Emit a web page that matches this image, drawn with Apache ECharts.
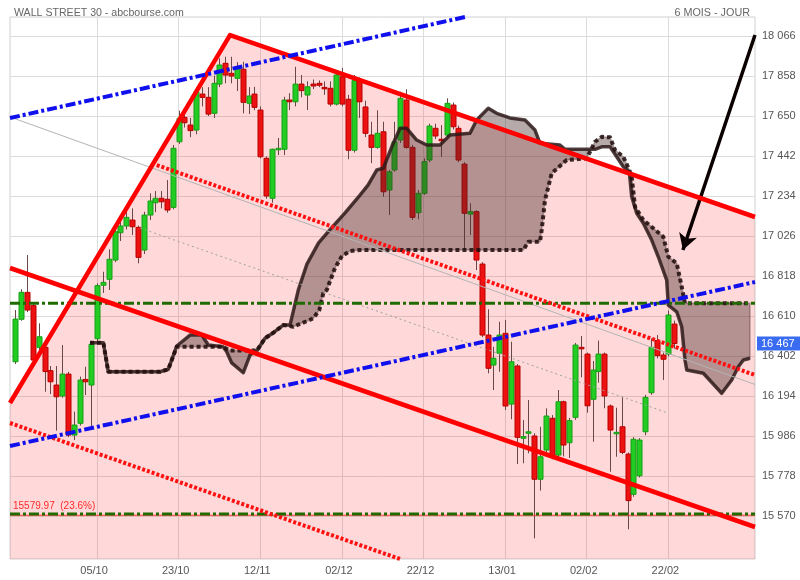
<!DOCTYPE html>
<html><head><meta charset="utf-8">
<script src="https://cdn.jsdelivr.net/npm/echarts@6/dist/echarts.min.js"></script>
<style>html,body{margin:0;padding:0;background:#fff}#c{width:800px;height:580px}</style>
</head><body><div id="c"></div>
<script>
// x = trading-day index (0 = 15/09/2015)
const xTickIdx = [14, 28, 42, 56, 70, 84, 98, 112];
const xTickLabels = ['05/10', '23/10', '12/11', '02/12', '22/12', '13/01', '02/02', '22/02'];
const yTicks = [15570, 15778, 15986, 16194, 16402, 16610, 16818, 17026, 17234, 17442, 17650, 17858, 18066];

const opens = [16372,16593,16733,16664,16447,16447,16326,16251,16194,16308,15991,16052,16280,16251,16492,16770,16801,16901,17043,17078,
17109,17071,16953,17135,17199,17222,17217,17175,17516,17643,17603,17577,17764,17747,17664,17816,17924,17872,17846,17893,
17716,17764,17681,17430,17222,17477,17477,17733,17724,17816,17759,17816,17820,17799,17794,17712,17854,17737,17472,17834,
17697,17551,17487,17568,17265,17369,17525,17733,17487,17147,17248,17421,17586,17529,17551,17707,17586,17400,17140,17153,
16880,16511,16355,16416,16520,16152,16350,15974,16000,15986,15761,15913,16078,15887,16164,15951,16083,16447,16412,16177,
16321,16412,16142,15998,16034,15892,15683,15779,16008,16211,16482,16407,16412,16568];
const highs = [16641,16749,16927,16680,16572,16470,16350,16350,16459,16320,16113,16295,16346,16470,16780,16840,16957,17060,17110,17165,
17170,17080,17152,17248,17260,17260,17317,17499,17678,17690,17640,17800,17800,17800,17860,17950,17958,17958,17930,17932,
17800,17802,17700,17440,17480,17536,17750,17769,17906,17863,17830,17840,17835,17830,17830,17889,17900,17760,17863,17850,
17730,17620,17680,17620,17370,17620,17776,17789,17500,17265,17430,17610,17610,17603,17742,17720,17600,17410,17196,17160,
16890,16645,16450,16580,16589,16476,16360,16069,16173,16000,16034,16130,16095,16225,16170,16080,16470,16506,16420,16376,
16482,16420,16150,16133,16190,15900,15980,15975,16200,16494,16511,16420,16638,16586];
const lows = [16360,16585,16630,16350,16430,16216,16204,16014,16185,15980,15965,16040,16199,16026,16480,16730,16745,16890,17000,17060,
17031,16884,16932,17109,17150,17170,17147,17165,17505,17590,17540,17555,17700,17650,17640,17800,17820,17820,17780,17664,
17660,17680,17430,17220,17199,17447,17447,17681,17700,17747,17681,17790,17800,17760,17700,17705,17700,17425,17460,17640,
17540,17405,17480,17230,17135,17360,17510,17480,17110,17113,17240,17410,17530,17438,17540,17580,17410,16953,17031,16849,
16500,16312,16225,16320,16121,16073,15840,15844,15896,15454,15702,15900,15865,15875,15880,15872,16070,16291,16107,15956,
16263,16130,15800,15878,15892,15501,15670,15770,15990,16200,16390,16277,16400,16440];
const closes = [16594,16733,16641,16381,16502,16321,16268,16190,16308,15991,16043,16277,16268,16463,16768,16785,16905,17048,17078,17123,
17074,16915,17135,17208,17222,17204,17161,17482,17638,17615,17574,17776,17747,17660,17820,17915,17863,17858,17903,17721,
17754,17695,17438,17234,17477,17482,17733,17724,17816,17782,17802,17806,17810,17792,17712,17863,17712,17472,17834,17724,
17560,17487,17560,17256,17360,17516,17742,17487,17123,17248,17413,17598,17546,17522,17716,17594,17421,17144,17153,16901,
16511,16338,16390,16511,16142,16372,15979,15983,16008,15761,15878,16090,15878,16164,15939,16066,16459,16440,16143,16329,
16412,16194,16017,16005,15901,15650,15969,15965,16187,16447,16404,16385,16615,16467];

// Ichimoku cloud: [day index, value]
const spanA = [[12.80,16471],[15.08,16471],[15.93,16320],[24.80,16320],[26.23,16333],[27.67,16454],[29.95,16511],[31.96,16511],
[33.09,16459],[35.61,16450],[36.24,16424],[37.10,16366],[39.09,16315],[40.24,16407],[41.39,16428],[42.81,16494],[44.24,16523],
[45.95,16563],[47.10,16563],[48.52,16745],[50.0,16880],[52.0,16990],[54.0,17060],[56.54,17146],[59.11,17239],[60.48,17291],
[61.97,17369],[63.10,17378],[64.55,17490],[65.97,17586],[67.12,17586],[68.83,17525],[70.55,17499],[72.83,17499],[74.55,17551],
[77.98,17560],[79.12,17629],[81.11,17690],[82.55,17664],[84.83,17640],[87.41,17629],[89.12,17577],[89.98,17508],[93.41,17499],
[94.27,17477],[99.42,17477],[100.57,17490],[101.99,17490],[103.14,17438],[104.27,17386],[105.30,17360],[105.71,17230],
[106.57,17144],[107.70,17092],[109.14,17005],[110.27,16918],[111.71,16797],[111.99,16667],[113.43,16632],[114.29,16554],
[114.85,16381],[115.15,16329],[118.0,16312],[121.15,16208],[122.86,16277],[124.0,16346],[124.86,16381],[126.0,16390]];
const spanB = [[12.80,16471],[15.08,16471],[15.93,16320],[24.80,16320],[26.23,16333],[27.67,16450],[35.61,16450],[36.81,16430],
[41.39,16430],[42.81,16494],[44.24,16523],[45.95,16563],[47.67,16554],[51.10,16598],[52.13,16641],[52.81,16728],[53.40,16745],
[54.82,16860],[56.02,16922],[57.39,16948],[59.11,16953],[87.12,16953],[87.98,16996],[89.98,16996],[90.27,17057],[90.84,17213],
[91.99,17352],[94.56,17421],[97.99,17430],[99.42,17516],[100.57,17542],[101.99,17539],[102.85,17473],[104.27,17438],
[105.30,17369],[105.71,17334],[106.28,17178],[107.70,17109],[109.42,17066],[111.13,17022],[111.99,16918],[113.43,16884],
[114.29,16762],[114.85,16676],[126.0,16676]];

// trend lines: [day index, value]
const steepAndTop = [[-0.93,16157.6],[36.81,18071],[126.86,17124.8]];
const lowerRed = [[-0.93,16859.6],[126.86,15512.8]];
const midRedDotted = [[24.24,17395],[126.86,16303]];
const lowRedDotted = [[-0.93,16053.6],[65.97,15346.4]];
const blueUpper = [[-0.93,17639.6],[77.12,18164.8]];
const blueLower = [[-0.93,15934],[126.86,16786.8]];
const greyLine = [[-0.93,17645],[126.86,16253.8]];
const greyDotted = [[21.37,17067.6],[111.94,16105.6]];
const greenUpper = 16676;
const fibLevel = 15579.97;
const fibLabel = '15579.97  (23.6%)';
const lastPrice = 16467;
const arrow = [[126.86,18071],[114.5,16953]];

const X_MIN = -0.93, X_MAX = 126.86, Y_MIN = 15346.4, Y_MAX = 18164.8;
const FONT = 'Liberation Sans, Arial, sans-serif';

const candleData = opens.map((o, i) => [i, o, closes[i], lows[i], highs[i]]);

function fmtThousands(v) { return String(Math.round(v)).replace(/\B(?=(\d{3})+(?!\d))/g, ' '); }

function renderCandle(params, api) {
  const i = api.value(0), o = api.value(1), c = api.value(2), l = api.value(3), h = api.value(4);
  const pO = api.coord([i, o]), pC = api.coord([i, c]), pL = api.coord([i, l]), pH = api.coord([i, h]);
  const cx = Math.round(pO[0]) + 0.5;
  const up = c >= o;
  const top = Math.min(pO[1], pC[1]), bot = Math.max(pO[1], pC[1]);
  return {
    type: 'group',
    children: [
      { type: 'line', shape: { x1: cx, y1: pH[1], x2: cx, y2: pL[1] }, style: { stroke: '#6b4848', lineWidth: 1 } },
      { type: 'rect', shape: { x: cx - 2.5, y: top, width: 5, height: Math.max(bot - top, 1.5) },
        style: { fill: up ? '#22cc22' : '#ee1111', stroke: up ? '#14a014' : '#b80000', lineWidth: 1 } }
    ]
  };
}

function renderCloud(params, api) {
  if (params.dataIndex !== 0) return;
  const pts = [];
  spanA.forEach(p => pts.push(api.coord(p)));
  for (let k = spanB.length - 1; k >= 0; k--) pts.push(api.coord(spanB[k]));
  return { type: 'polygon', shape: { points: pts }, style: { fill: 'rgba(70,40,40,0.40)', stroke: 'rgba(60,40,40,0.35)', lineWidth: 1.5 } };
}

function lineSeries(data, color, width, type, z) {
  return { type: 'line', data: data, showSymbol: false, symbol: 'none', silent: true, z: z,
    lineStyle: { color: color, width: width, type: type, cap: 'butt', join: 'round' }, clip: true, animation: false };
}

const chart = echarts.init(document.getElementById('c'), null, { renderer: 'canvas' });
chart.setOption({
  animation: false,
  backgroundColor: '#ffffff',
  title: [
    { text: 'WALL STREET 30 - abcbourse.com', left: 9, top: 3, textStyle: { fontSize: 10.6, color: '#666', fontWeight: 'normal', fontFamily: FONT } },
    { text: '6 MOIS - JOUR', right: 45, top: 3, textStyle: { fontSize: 10.8, color: '#666', fontWeight: 'normal', fontFamily: FONT } }
  ],
  grid: { left: 10, right: 45, top: 17, bottom: 21, show: true, borderColor: '#d0d0d0', borderWidth: 1, containLabel: false },
  xAxis: {
    type: 'value', min: X_MIN, max: X_MAX,
    axisLine: { show: false },
    axisTick: { show: false, customValues: xTickIdx },
    axisLabel: { customValues: xTickIdx, color: '#555', fontSize: 11, fontFamily: FONT, margin: 6, padding: [0, 6, 0, 0],
      formatter: v => { const k = xTickIdx.indexOf(Math.round(v)); return k >= 0 ? xTickLabels[k] : ''; } },
    splitLine: { show: true, lineStyle: { color: '#dcdcdc', width: 1 } }
  },
  yAxis: {
    type: 'value', position: 'right', min: Y_MIN, max: Y_MAX, scale: true,
    axisLine: { show: false },
    axisTick: { show: false, customValues: yTicks },
    axisLabel: { customValues: yTicks, color: '#555', fontSize: 11, fontFamily: FONT, margin: 7, formatter: v => fmtThousands(v) },
    splitLine: { show: true, lineStyle: { color: '#dcdcdc', width: 1 } }
  },
  series: [
    // pink channel area
    { type: 'line', data: steepAndTop, showSymbol: false, symbol: 'none', silent: true, z: 1,
      lineStyle: { width: 0 }, areaStyle: { color: 'rgba(255,0,0,0.15)', opacity: 1, origin: 'start' } },
    // candles
    { type: 'custom', renderItem: renderCandle, data: candleData, encode: { x: 0, y: [1, 2, 3, 4] }, z: 2, clip: true, silent: true },
    // cloud
    { type: 'custom', renderItem: renderCloud, data: [[0, 0]], z: 3, clip: true, silent: true },
    lineSeries(spanA, 'rgba(45,25,25,0.82)', 3.5, 'solid', 4),
    lineSeries(spanB, 'rgba(35,15,15,0.88)', 4, [4, 3], 4),
    // grey lines
    lineSeries(greyLine, '#b4b4b4', 1, 'solid', 5),
    lineSeries(greyDotted, '#a0a0a0', 1, [2, 3], 5),
    // green horizontal lines
    lineSeries([[X_MIN, greenUpper], [X_MAX, greenUpper]], '#1f6b00', 3, [10, 3, 3, 3], 6),
    lineSeries([[X_MIN, fibLevel - 6], [X_MAX, fibLevel - 6]], '#ff3030', 1, 'solid', 6),
    lineSeries([[X_MIN, fibLevel], [X_MAX, fibLevel]], '#1f6b00', 3, [10, 3, 3, 3], 6),
    // red and blue trend lines
    lineSeries(steepAndTop, '#ff0000', 4.5, 'solid', 7),
    lineSeries(lowerRed, '#ff0000', 4.5, 'solid', 7),
    lineSeries(midRedDotted, '#ff1010', 4, [3, 2], 7),
    lineSeries(lowRedDotted, '#ff1010', 4, [3, 2], 7),
    lineSeries(blueUpper, '#1010ee', 4, [10, 3, 3, 3], 7),
    lineSeries(blueLower, '#1010ee', 4, [10, 3, 3, 3], 7),
    // arrow + labels
    { type: 'line', data: [], z: 8, silent: true,
      markLine: { silent: true, animation: false, symbol: ['none', 'arrow'], symbolSize: [14, 16],
        lineStyle: { color: '#0a0000', width: 3.5, type: 'solid' },
        label: { show: false },
        data: [[{ coord: arrow[0] }, { coord: arrow[1] }]] } },
    { type: 'line', data: [], z: 9, silent: true,
      markLine: { silent: true, animation: false, symbol: ['none', 'none'],
        lineStyle: { color: 'rgba(0,0,0,0)', width: 0 },
        data: [
          { yAxis: lastPrice,
            label: { show: true, position: 'end', formatter: fmtThousands(lastPrice), color: '#ffffff', backgroundColor: '#3a6cf2',
              padding: [2, 6, 1, 4], fontSize: 11, fontFamily: FONT, distance: 2 } },
          { yAxis: fibLevel,
            label: { show: true, position: 'insideStartTop', formatter: fibLabel, color: '#ff2a2a', fontSize: 10, fontFamily: FONT, distance: 3 } }
        ] } }
  ]
});
</script>
</body></html>
